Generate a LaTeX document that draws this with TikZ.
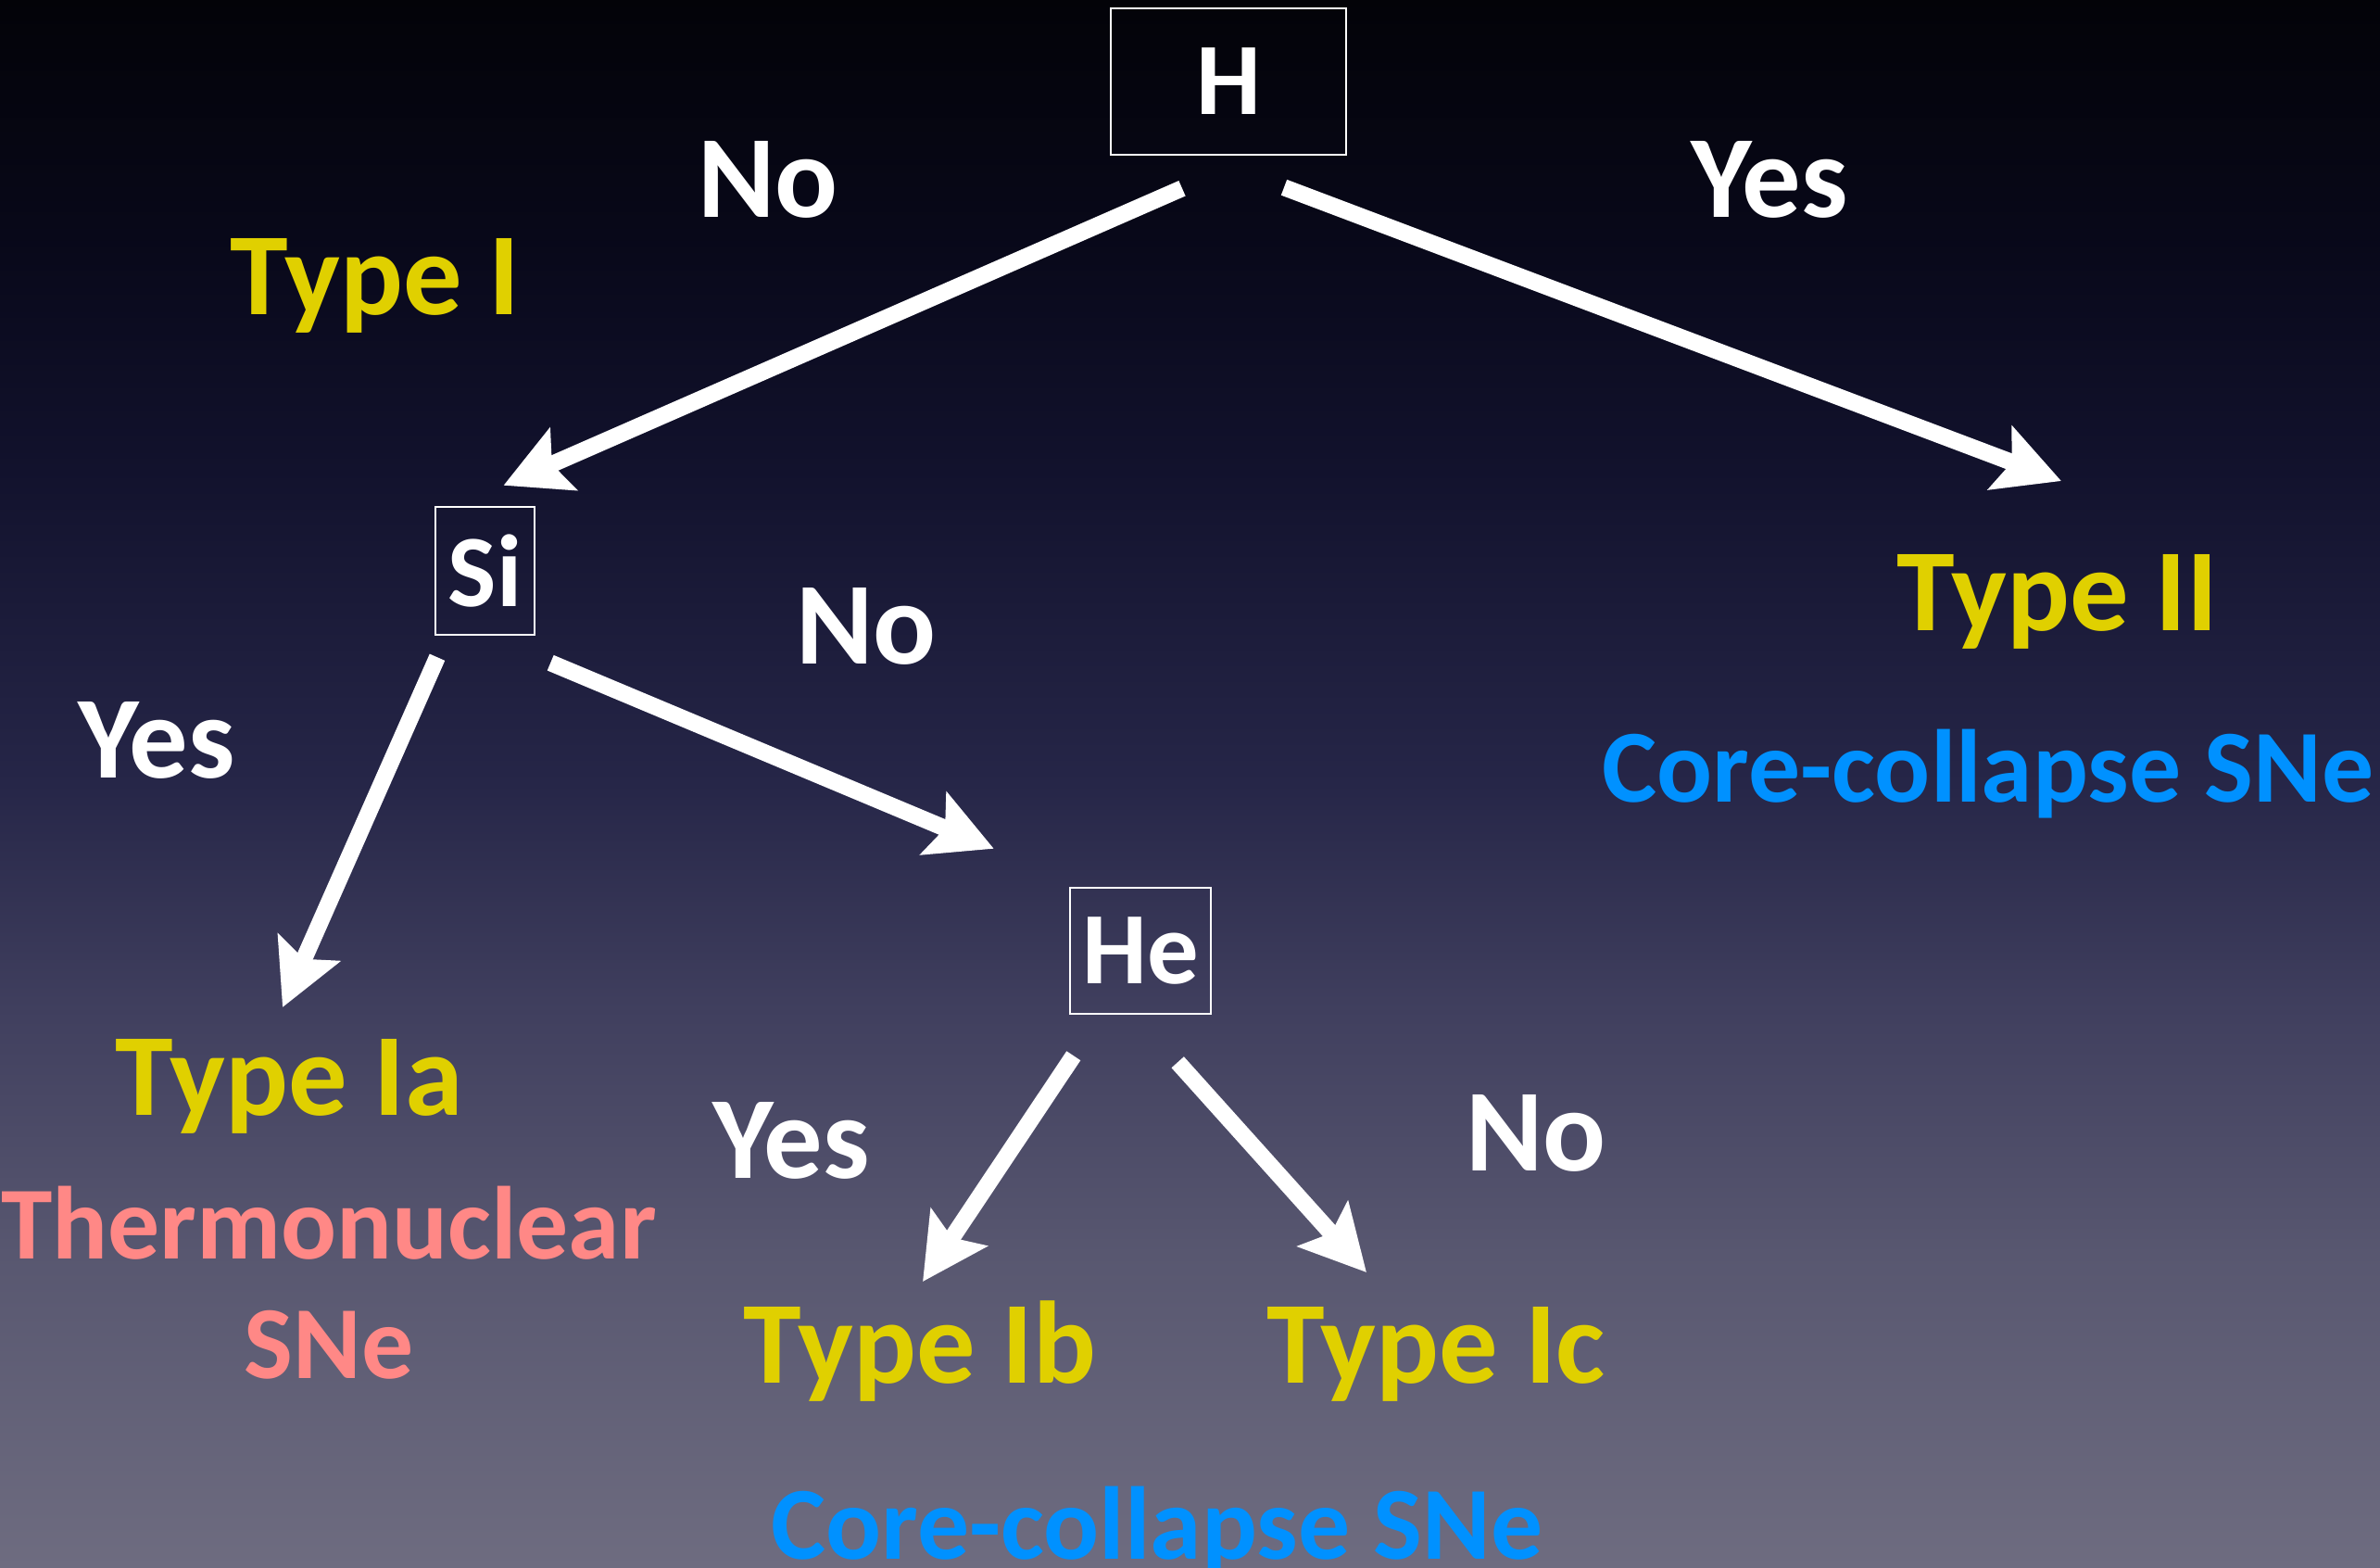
\documentclass[tikz,border=0pt]{standalone}
\usepackage{fontspec}
\setmainfont{Carlito}
\usepackage{tikz}
\usetikzlibrary{arrows.meta}

\definecolor{typeyellow}{RGB}{224,208,0}
\definecolor{thermopink}{RGB}{255,136,134}
\definecolor{ccblue}{RGB}{0,145,255}
\definecolor{bgA}{RGB}{110,108,128}
\definecolor{bgB}{RGB}{88,87,112}
\definecolor{bgC}{RGB}{65,64,95}
\definecolor{bgD}{RGB}{38,38,72}
\definecolor{bgE}{RGB}{18,18,45}
\definecolor{bgF}{RGB}{8,8,25}
\definecolor{bgG}{RGB}{3,3,8}
\pgfdeclareverticalshading{skyfade}{100bp}{color(0bp)=(bgA); color(25bp)=(bgA); color(35bp)=(bgB); color(42.5bp)=(bgC); color(50bp)=(bgD); color(60bp)=(bgE); color(67.5bp)=(bgF); color(75bp)=(bgG); color(100bp)=(bgG)}

\begin{document}
\begin{tikzpicture}[x=1mm, y=-1mm, >={Stealth[length=7mm,width=7.2mm,inset=1.3mm]},
		box/.style={draw=white, line width=0.7pt, inner sep=0pt, text=white, font=\fontsize{31.5}{36}\selectfont\bfseries},
		lbl/.style={anchor=base, inner sep=0pt, font=\fontsize{36}{42}\selectfont\bfseries},
		kind/.style={anchor=base, inner sep=0pt, font=\fontsize{31.8}{36}\selectfont\bfseries},
		arr/.style={->, draw=white, line width=1.8mm}]
				\shade[shading=skyfade] (0,0) rectangle (256.9,169.1);
				\useasboundingbox (0,0) rectangle (256.9,169.1);

				\node[box, minimum width=25.4mm, minimum height=15.8mm] (H)  at (132.6,8.8)   {H};
				\node[box, minimum width=10.7mm, minimum height=13.8mm] (Si) at (52.35,61.6)  {Si};
				\node[box, minimum width=15.2mm, minimum height=13.6mm] (He) at (123.1,102.6) {He};

				\node[lbl, white]      (No1)  at (82.9,23.4)  {No};
				\node[lbl, white]      (Yes1) at (191.0,23.4) {Yes};
				\node[lbl, typeyellow] (I)    at (40.5,33.9)  {Type I};
				\node[lbl, white]      (No2)  at (93.5,71.6)  {No};
				\node[lbl, white]      (Yes2) at (16.9,83.9)  {Yes};
				\node[lbl, typeyellow] (II)   at (222.1,68.0) {Type II};
				\node[kind, ccblue]    (CCa)  at (214.6,86.5) {Core-collapse SNe};
				\node[lbl, typeyellow] (Ia)   at (31.2,120.3) {Type Ia};
				\node[kind, thermopink] (Th)  at (35.5,135.8) {Thermonuclear};
				\node[kind, thermopink] (ThS) at (35.5,148.7) {SNe};
				\node[lbl, white]      (Yes3) at (85.4,127.1) {Yes};
				\node[lbl, white]      (No3)  at (165.8,126.3) {No};
				\node[lbl, typeyellow] (Ib)   at (99.3,149.2) {Type Ib};
				\node[lbl, typeyellow] (Ic)   at (155.0,149.2) {Type Ic};
				\node[kind, ccblue]    (CCb)  at (124.9,168.2) {Core-collapse SNe};

				\path ([xshift=-5mm,yshift=-3.5mm]H.south)     edge[arr] ([xshift=2mm,yshift=2.2mm]Si.north)
				      ([xshift=6mm,yshift=-3.4mm]H.south)      edge[arr] ([xshift=0.4mm,yshift=16.1mm]II.base)
				      ([xshift=-5.15mm,yshift=-2.3mm]Si.south) edge[arr] ([xshift=-0.7mm,yshift=11.6mm]Ia.base)
				      ([xshift=1.6mm,yshift=-2.9mm]Si.south east) edge[arr] ([xshift=-8.1mm,yshift=4.1mm]He.north west)
				      ([xshift=0.5mm,yshift=-4.4mm]He.south west) edge[arr] ([xshift=0.3mm,yshift=10.9mm]Ib.base)
				      ([xshift=-3.7mm,yshift=-5.1mm]He.south east) edge[arr] ([xshift=-7.5mm,yshift=11.9mm]Ic.base);
\end{tikzpicture}
\end{document}
